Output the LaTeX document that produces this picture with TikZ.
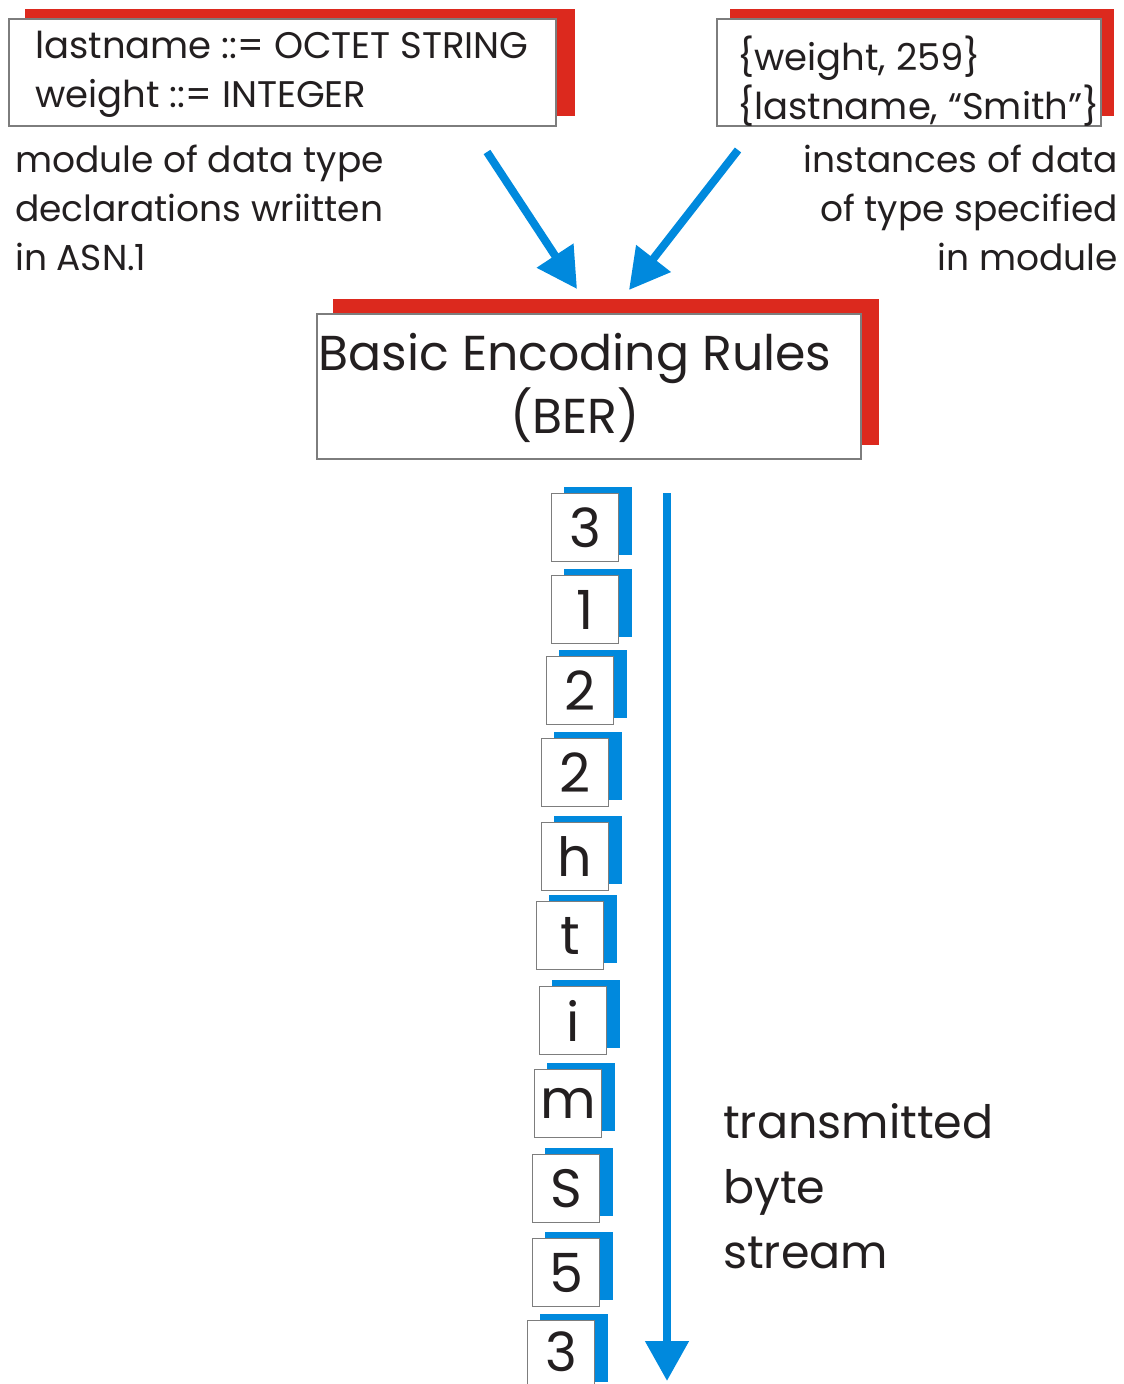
\documentclass[tikz,border=0pt]{standalone}
\usepackage{fontspec}
\setmainfont{Poppins}
\usetikzlibrary{arrows.meta}
\definecolor{shred}{RGB}{220,41,30}
\definecolor{shblue}{RGB}{0,137,221}
\definecolor{ink}{RGB}{35,31,32}
\definecolor{boxgray}{RGB}{125,125,125}
\begin{document}
\begin{tikzpicture}[x=1pt,y=-1pt,
  txt/.style={inner sep=0pt, text=ink},
  boxtxt/.style={txt, font=\fontsize{37}{49}\selectfont},
  lbltxt/.style={txt, font=\fontsize{36}{49}\selectfont},
  bertxt/.style={txt, font=\fontsize{49}{63}\selectfont},
  bigtxt/.style={txt, font=\fontsize{46}{65}\selectfont},
  shadowred/.style={fill=shred, draw=none},
  shadowblue/.style={fill=shblue, draw=none},
  wbox/.style={draw=boxgray, fill=white, line width=1.2pt, inner sep=0pt},
  bluearrow/.style={draw=shblue, line width=8pt, -{Triangle[width=42pt,length=40pt]}},
  bytebox/.style={wbox, minimum width=67pt, minimum height=68pt, font=\fontsize{54}{60}\selectfont, text=ink},
]
\useasboundingbox (0,0) rectangle (1124,1384);

% top-left declarations box
\fill[shadowred] (25,9) rectangle (575,116);
\node[wbox, minimum width=547pt, minimum height=107pt] (decl) at (282.5,72.5) {};
\node[boxtxt, anchor=base west] (decl1) at (35,58) {lastname ::= OCTET STRING};
\node[boxtxt, anchor=base west] (decl2) at (35,107) {weight ::= INTEGER};

% top-right instances box
\fill[shadowred] (730,9) rectangle (1114,116);
\node[wbox, minimum width=384pt, minimum height=107pt] (inst) at (909,72.5) {};
\node[boxtxt, anchor=base west] (inst1) at (737,70) {\{weight, 259\}};
\node[boxtxt, anchor=base west] (inst2) at (737,119) {\{lastname, “Smith”\}};

% labels
\node[lbltxt, anchor=base west] (ml1) at (15,172) {module of data type};
\node[lbltxt, anchor=base west] (ml2) at (15,221) {declarations wriitten};
\node[lbltxt, anchor=base west] (ml3) at (15,270) {in ASN.1};
\node[lbltxt, anchor=base east] (il1) at (1118,172) {instances of data};
\node[lbltxt, anchor=base east] (il2) at (1118,221) {of type specified};
\node[lbltxt, anchor=base east] (il3) at (1118,270) {in module};

% BER box
\fill[shadowred] (333,299) rectangle (879,445);
\node[wbox, minimum width=544pt, minimum height=145pt] (ber) at (589,386.5) {};
\node[bertxt, anchor=base] (ber1) at (575,370) {Basic Encoding Rules};
\node[bertxt, anchor=base] (ber2) at (575,433) {(BER)};

% arrows into BER
\coordinate (a1s) at (487,152);
\coordinate (a1e) at (577,289);
\coordinate (a2s) at (738,150);
\coordinate (a2e) at (629,290);
\draw[bluearrow] (a1s) -- (a1e);
\draw[bluearrow] (a2s) -- (a2e);

% byte stream
\foreach \bx/\by/\bc [count=\i] in {551/493/3, 551/575/1, 546/656/2, 541/738/2, 541/822/h, 536/901/t, 539/986/i, 534/1069/m, 532/1154/S, 532/1238/5, 527/1320/\raisebox{7pt}{3}}{
  \fill[shadowblue] (\bx+13,\by-6) rectangle +(68,68);
  \node[bytebox, anchor=north west] (b\i) at (\bx,\by) {\bc};
}

% stream arrow
\coordinate (ss) at (667,493);
\coordinate (se) at (667,1381);
\draw[bluearrow] (ss) -- (se);

\node[bigtxt, anchor=base west] (t1) at (723,1138) {transmitted};
\node[bigtxt, anchor=base west] (t2) at (723,1203) {byte};
\node[bigtxt, anchor=base west] (t3) at (723,1268) {stream};
\end{tikzpicture}
\end{document}
